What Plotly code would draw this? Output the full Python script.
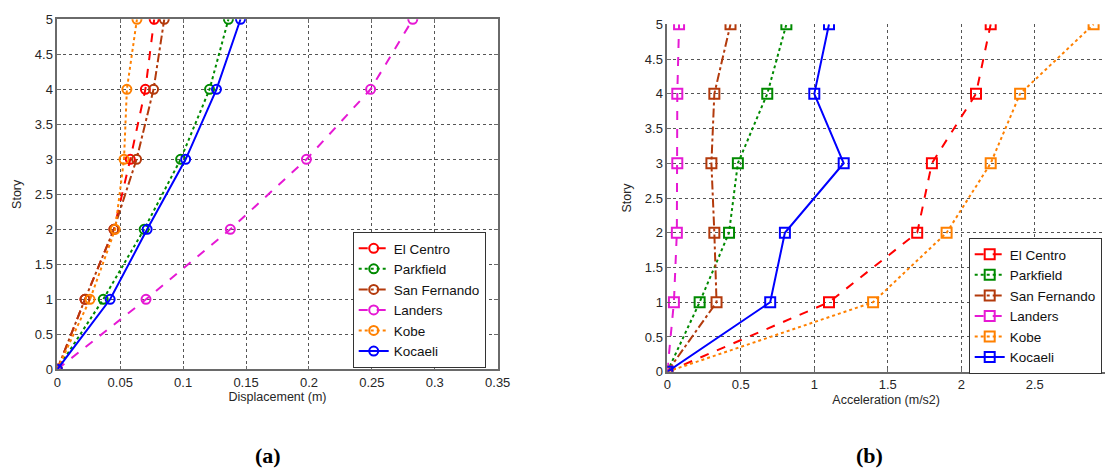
import plotly.graph_objects as go

stories = [0, 1, 2, 3, 4, 5]
names = ["El Centro", "Parkfield", "San Fernando", "Landers", "Kobe", "Kocaeli"]

disp_el_centro = [0, 0.022, 0.045, 0.058, 0.070, 0.077]
disp_parkfield = [0, 0.0365, 0.069, 0.098, 0.121, 0.136]
disp_san_fernando = [0, 0.022, 0.045, 0.063, 0.0765, 0.085]
disp_landers = [0, 0.0705, 0.1375, 0.198, 0.249, 0.2825]
disp_kobe = [0, 0.026, 0.046, 0.053, 0.0553, 0.0633]
disp_kocaeli = [0, 0.042, 0.0714, 0.102, 0.1265, 0.1456]

acc_el_centro = [0, 1.1, 1.7, 1.8, 2.1, 2.2]
acc_parkfield = [0, 0.22, 0.42, 0.48, 0.68, 0.81]
acc_san_fernando = [0, 0.335, 0.32, 0.3, 0.32, 0.43]
acc_landers = [0, 0.045, 0.065, 0.068, 0.068, 0.08]
acc_kobe = [0, 1.4, 1.9, 2.2, 2.4, 2.9]
acc_kocaeli = [0, 0.7, 0.8, 1.2, 1.0, 1.1]

disp_series = [disp_el_centro, disp_parkfield, disp_san_fernando, disp_landers, disp_kobe, disp_kocaeli]
acc_series = [acc_el_centro, acc_parkfield, acc_san_fernando, acc_landers, acc_kobe, acc_kocaeli]

colors = ["#FF0000", "#008A00", "#B33A0C", "#E619D4", "#FF8000", "#0000FF"]
dashes = ["dash", "dot", "dashdot", "dash", "dot", "solid"]

W, H = 1105, 468
fig = go.Figure()

for name, vals, c, d in zip(names, disp_series, colors, dashes):
    fig.add_trace(go.Scatter(
        x=vals, y=stories, name=name, mode="lines+markers",
        line=dict(color=c, dash=d, width=2),
        marker=dict(symbol="circle-open", size=9, color=c, line=dict(width=2)),
        xaxis="x", yaxis="y", legend="legend",
    ))

for name, vals, c, d in zip(names, acc_series, colors, dashes):
    fig.add_trace(go.Scatter(
        x=vals, y=stories, name=name, mode="lines+markers",
        line=dict(color=c, dash=d, width=2),
        marker=dict(symbol="square-open", size=10, color=c, line=dict(width=2)),
        xaxis="x2", yaxis="y2", legend="legend2",
    ))

FONT = "Liberation Sans, Arial, sans-serif"
tickfont = dict(family=FONT, size=13, color="#262626")
titlefont = dict(family=FONT, size=12.5, color="#262626")
grid = dict(showgrid=True, gridcolor="#555555", griddash="dot", gridwidth=1,
            zeroline=False, showline=True, linecolor="#6a6a6a", linewidth=1.5,
            ticks="inside", ticklen=4, tickcolor="#6a6a6a", tickfont=tickfont,
            automargin=False)

legend_common = dict(xanchor="left", yanchor="top",
                     bordercolor="#333333", borderwidth=1, bgcolor="white",
                     font=dict(family=FONT, size=13.5, color="#111111"),
                     tracegroupgap=0, itemwidth=30)

label_font = dict(family="Liberation Serif, DejaVu Serif, serif", size=22, color="#000000")

fig.update_layout(
    width=W, height=H,
    margin=dict(l=0, r=0, t=0, b=0, autoexpand=False),
    font=dict(family=FONT),
    paper_bgcolor="white", plot_bgcolor="white",
    showlegend=True,
    xaxis=dict(domain=[57.3 / W, 497.7 / W], range=[0, 0.35], dtick=0.05, mirror="ticks",
               anchor="y", title=dict(text="Displacement (m)", font=titlefont, standoff=4), **grid),
    yaxis=dict(domain=[1 - 369.3 / H, 1 - 19.3 / H], range=[0, 5], dtick=0.5, mirror="ticks",
               anchor="x", title=dict(text="Story", font=titlefont, standoff=10), **grid),
    xaxis2=dict(domain=[667.3 / W, 1.0], range=[0, (W - 667.3) / 147.0], dtick=0.5, mirror=False,
                anchor="y2", title=dict(text="Acceleration (m/s2)", font=titlefont, standoff=4), **grid),
    yaxis2=dict(domain=[1 - 371.7 / H, 1 - 24.3 / H], range=[0, 5], dtick=0.5, mirror=False,
                anchor="x2", title=dict(text="Story", font=titlefont, standoff=10), **grid),
    legend=dict(x=352.7 / W, y=1 - 232 / H, **legend_common),
    legend2=dict(x=968.7 / W, y=1 - 238 / H, **legend_common),
    annotations=[
        dict(text="<b>(a)</b>", x=268 / W, y=1 - 455 / H, xref="paper", yref="paper",
             xanchor="center", yanchor="middle", showarrow=False, font=label_font),
        dict(text="<b>(b)</b>", x=869 / W, y=1 - 455 / H, xref="paper", yref="paper",
             xanchor="center", yanchor="middle", showarrow=False, font=label_font),
    ],
)

fig.write_html("out.html", config={"displayModeBar": False},
               post_script="document.body.style.margin='0';document.body.style.padding='0';")
